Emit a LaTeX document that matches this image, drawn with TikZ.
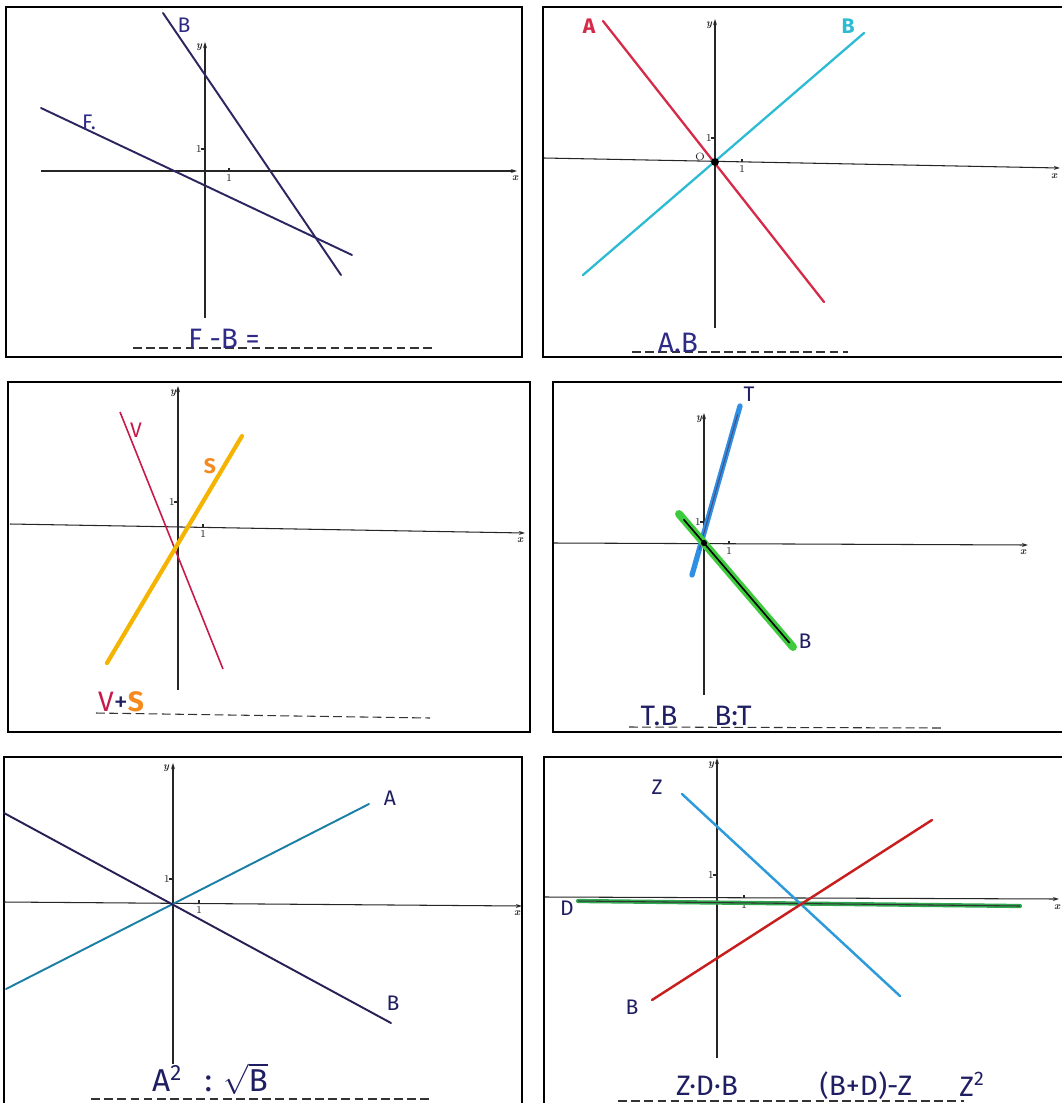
\documentclass[tikz,border=0pt]{standalone}
\usepackage{fontspec}
\usepackage{xcolor}
\usepackage{tikz}
\usetikzlibrary{arrows.meta,positioning,calc}
\newfontfamily\handfont{Fira Sans}

\definecolor{inkblue}{HTML}{2E2A86}
\definecolor{inknavy}{HTML}{1F1E62}
\definecolor{indigo}{HTML}{2B2660}
\definecolor{ared}{HTML}{D62B48}
\definecolor{bcyan}{HTML}{2BBBD3}
\definecolor{vred}{HTML}{C8194B}
\definecolor{samber}{HTML}{F4B400}
\definecolor{sorange}{HTML}{F58A1F}
\definecolor{tblue}{HTML}{2F8FE3}
\definecolor{bgreen}{HTML}{3DCB3D}
\definecolor{ateal}{HTML}{1B7FA5}
\definecolor{bpurple}{HTML}{2A1F55}
\definecolor{zcyan}{HTML}{2D9BDB}
\definecolor{bred}{HTML}{C81E1E}
\definecolor{dgreen}{HTML}{2FA84F}

\begin{document}
\begin{tikzpicture}[x=0.02cm, y=-0.02cm,
    every node/.style={inner sep=0pt},
    frame/.style={draw=black, line width=1.2pt},
    axis/.style={draw=black!85, line width=0.6pt, -{Stealth[length=3.5pt, width=2.2pt]}},
    tck/.style={draw=black!85, line width=0.6pt},
    axlab/.style={font=\fontsize{6}{6}\selectfont\bfseries\itshape, text=black!85},
    onelab/.style={font=\fontsize{6}{6}\selectfont, text=black!85},
    hand/.style={font=\handfont\fontsize{12}{12}\selectfont},
    answer/.style={font=\handfont\fontsize{16}{16}\selectfont, text=inkblue},
    blank/.style={draw=black!80, line width=0.6pt, dash pattern=on 5pt off 2.5pt},
    dotmark/.style={circle, fill=black, minimum size=4.5pt, inner sep=0pt},
    thin line/.style={line width=1.1pt, line cap=round},
    fat line/.style={line width=2.4pt, line cap=round},
    marker/.style={line width=4.5pt, line cap=round},
  ]
  \fill[white] (0,0) rectangle (1062,1103);
  \useasboundingbox (0,0) rectangle (1062,1103);
  \clip (0,0) rectangle (1062,1103);

  % panel 1: F - B
  \draw[frame] (6,7) rectangle (522,357);
  \coordinate (o1w) at (41,171);  \coordinate (o1e) at (517,171);
  \coordinate (o1s) at (205,318); \coordinate (o1n) at (205,42);
  \draw[axis] (o1w) -- (o1e);
  \draw[axis] (o1s) -- (o1n);
  \node[axlab] (x1) at (515,178) {x};
  \node[axlab] (y1) at (199,47) {y};
  \coordinate (tx1) at (229,171); \coordinate (ty1) at (205,149);
  \draw[tck] (tx1) -- ++(0,-3);
  \draw[tck] (ty1) -- ++(-4,0);
  \node[onelab, below=1.5pt of tx1] (nx1) {1};
  \node[onelab, left=1.5pt of ty1] (ny1) {1};
  \coordinate (b1a) at (163,13); \coordinate (b1b) at (341,275);
  \coordinate (f1a) at (41,108); \coordinate (f1b) at (352,255);
  \draw[thin line, indigo] (b1a) -- (b1b);
  \draw[thin line, indigo] (f1a) -- (f1b);
  \node[hand, text=inkblue] (lb1) at (184,25) {B};
  \node[hand, text=inkblue] (lf1) at (89,122) {F.};
  \coordinate (d1a) at (133,348); \coordinate (d1b) at (433,348);
  \draw[blank] (d1a) -- (d1b);
  \node[answer] (ans1) at (224,339) {F -B =};

  % panel 2: A . B
  \draw[frame] (543,7) rectangle (1070,357);
  \coordinate (o2w) at (544,158);  \coordinate (o2e) at (1060,168);
  \coordinate (o2s) at (715,328);  \coordinate (o2n) at (715,19);
  \draw[axis] (o2w) -- (o2e);
  \draw[axis] (o2s) -- (o2n);
  \node[axlab] (x2) at (1054,176) {x};
  \node[axlab] (y2) at (709,25) {y};
  \coordinate (tx2) at (742,162); \coordinate (ty2) at (715,138);
  \draw[tck] (tx2) -- ++(0,-3);
  \draw[tck] (ty2) -- ++(-4,0);
  \node[onelab, below=1.5pt of tx2] (nx2) {1};
  \node[onelab, left=1.5pt of ty2] (ny2) {1};
  \node[onelab] (o2) at (700,157) {O};
  \coordinate (a2a) at (603,21);  \coordinate (a2b) at (824,302);
  \coordinate (b2a) at (864,33);  \coordinate (b2b) at (583,275);
  \draw[thin line, line width=1.3pt, ared] (a2a) -- (a2b);
  \draw[thin line, line width=1.3pt, bcyan] (b2a) -- (b2b);
  \node[dotmark] (c2) at (715,162) {};
  \node[hand, text=ared, font=\handfont\bfseries\fontsize{12}{12}\selectfont] (la2) at (589,26) {A};
  \node[hand, text=bcyan, font=\handfont\bfseries\fontsize{12}{12}\selectfont] (lb2) at (848,26) {B};
  \coordinate (d2a) at (632,352); \coordinate (d2b) at (848,352);
  \draw[blank] (d2a) -- (d2b);
  \node[answer] (ans2) at (678,343) {A.B};

  % panel 3: V + S
  \draw[frame] (8,382) rectangle (530,732);
  \coordinate (o3w) at (10,524);  \coordinate (o3e) at (525,533);
  \coordinate (o3s) at (178,690); \coordinate (o3n) at (178,386);
  \draw[axis] (o3w) -- (o3e);
  \draw[axis] (o3s) -- (o3n);
  \node[axlab] (x3) at (520,540) {x};
  \node[axlab] (y3) at (173,393) {y};
  \coordinate (tx3) at (203,527.4); \coordinate (ty3) at (178,502);
  \draw[tck] (tx3) -- ++(0,-3);
  \draw[tck] (ty3) -- ++(-4,0);
  \node[onelab, below=1.5pt of tx3] (nx3) {1};
  \node[onelab, left=1.5pt of ty3] (ny3) {1};
  \coordinate (v3a) at (120,412); \coordinate (v3b) at (223,669);
  \coordinate (s3a) at (242,436); \coordinate (s3b) at (107,663);
  \draw[line width=0.9pt, vred] (v3a) -- (v3b);
  \draw[fat line, samber] (s3a) -- (s3b);
  \node[hand, text=vred] (lv3) at (136,430) {V};
  \node[hand, text=sorange, font=\handfont\bfseries\fontsize{12}{12}\selectfont] (ls3) at (210,466) {S};
  \coordinate (d3a) at (96,713); \coordinate (d3b) at (430,718);
  \draw[blank] (d3a) -- (d3b);
  \node[answer] (ans3) at (121,702) {\color{vred}V\color{inknavy}+\color{sorange}\bfseries S};

  % panel 4: T . B  and  B : T
  \draw[frame] (553,382) rectangle (1070,732);
  \coordinate (o4w) at (554,543);  \coordinate (o4e) at (1028,545);
  \coordinate (o4s) at (704,695);  \coordinate (o4n) at (704,413);
  \draw[axis] (o4w) -- (o4e);
  \draw[axis] (o4s) -- (o4n);
  \node[axlab] (x4) at (1023,552) {x};
  \node[axlab] (y4) at (699,419) {y};
  \coordinate (tx4) at (729,544); \coordinate (ty4) at (704,522);
  \draw[tck] (tx4) -- ++(0,-3);
  \draw[tck] (ty4) -- ++(-4,0);
  \node[onelab, below=1.5pt of tx4] (nx4) {1};
  \node[onelab, left=1.5pt of ty4] (ny4) {1};
  \coordinate (t4a) at (740,406);   \coordinate (t4b) at (692,575);
  \coordinate (b4a) at (679,514);   \coordinate (b4b) at (793,647);
  \draw[line width=3pt, line cap=round, tblue] (t4a) -- (t4b);
  \draw[line width=0.6pt, inknavy!80] ($(t4a)!0.05!(t4b)$) -- ($(t4a)!0.85!(t4b)$);
  \draw[marker, bgreen] (b4a) -- (b4b);
  \draw[line width=0.9pt, black] ($(b4a)!0.04!(b4b)$) -- ($(b4a)!0.97!(b4b)$);
  \node[dotmark, minimum size=3.5pt] (c4) at (704,543) {};
  \node[hand, text=inknavy] (lt4) at (749,394) {T};
  \node[hand, text=inknavy] (lb4) at (805,641) {B};
  \coordinate (d4a) at (629,727); \coordinate (d4b) at (943,728);
  \draw[blank] (d4a) -- (d4b);
  \node[answer, text=inknavy] (ans4a) at (659,716) {T.B};
  \node[answer, text=inknavy] (ans4b) at (733,716) {B:T};

  % panel 5: A^2 : sqrt B
  \draw[frame] (4,757) rectangle (522,1110);
  \coordinate (o5w) at (4,902);    \coordinate (o5e) at (522,906);
  \coordinate (o5s) at (173,1064); \coordinate (o5n) at (173,763);
  \draw[axis] (o5w) -- (o5e);
  \draw[axis] (o5s) -- (o5n);
  \node[axlab] (x5) at (517,913) {x};
  \node[axlab] (y5) at (166,768) {y};
  \coordinate (tx5) at (199,903); \coordinate (ty5) at (173,879);
  \draw[tck] (tx5) -- ++(0,-3);
  \draw[tck] (ty5) -- ++(-4,0);
  \node[onelab, below=1.5pt of tx5] (nx5) {1};
  \node[onelab, left=1.5pt of ty5] (ny5) {1};
  \coordinate (a5a) at (369,804); \coordinate (a5b) at (6,989);
  \coordinate (b5a) at (4,813);   \coordinate (b5b) at (391,1023);
  \draw[thin line, ateal] (a5a) -- (a5b);
  \draw[thin line, bpurple] (b5a) -- (b5b);
  \node[hand, text=inknavy] (la5) at (390,798) {A};
  \node[hand, text=inknavy] (lb5) at (393,1003) {B};
  \coordinate (d5a) at (91,1099); \coordinate (d5b) at (429,1099);
  \draw[blank] (d5a) -- (d5b);
  \node[answer, text=inknavy, font=\handfont\fontsize{18}{18}\selectfont] (ans5) at (210,1079) {A\textsuperscript{2}\;\, : $\sqrt{\mbox{B}}$};

  % panel 6: Z.D.B   (B+D)-Z   Z^2
  \draw[frame] (544,757) rectangle (1070,1110);
  \coordinate (o6w) at (545,897);  \coordinate (o6e) at (1059,899);
  \coordinate (o6s) at (717,1058); \coordinate (o6n) at (717,758);
  \draw[axis] (o6w) -- (o6e);
  \draw[axis] (o6s) -- (o6n);
  \node[axlab] (x6) at (1057,907) {x};
  \node[axlab] (y6) at (711,765) {y};
  \coordinate (tx6) at (744,898); \coordinate (ty6) at (717,875);
  \draw[tck] (tx6) -- ++(0,-3);
  \draw[tck] (ty6) -- ++(-4,0);
  \node[onelab, below=1.5pt of tx6] (nx6) {1};
  \node[onelab, left=1.5pt of ty6] (ny6) {1};
  \coordinate (z6a) at (682,794);  \coordinate (z6b) at (900,996);
  \coordinate (b6a) at (652,1000); \coordinate (b6b) at (932,820);
  \coordinate (d6a) at (578,901);  \coordinate (d6b) at (1020,906);
  \draw[line width=2.4pt, line cap=round, dgreen] (d6a) -- (d6b);
  \draw[line width=0.6pt, black!80] (d6a) -- (d6b);
  \draw[thin line, line width=1.4pt, zcyan] (z6a) -- (z6b);
  \draw[thin line, line width=1.4pt, bred] (b6a) -- (b6b);
  \node[hand, text=inknavy] (lz6) at (657,787) {Z};
  \node[hand, text=inknavy] (lb6) at (632,1007) {B};
  \node[hand, text=inknavy] (ld6) at (567,908) {D};
  \coordinate (d6l) at (618,1101); \coordinate (d6r) at (964,1101);
  \draw[blank] (d6l) -- (d6r);
  \node[answer, text=inknavy] (ans6a) at (707,1086) {Z·D·B};
  \node[answer, text=inknavy] (ans6b) at (866,1086) {(B+D)-Z};
  \node[answer, text=inknavy] (ans6c) at (972,1084) {Z\textsuperscript{2}};
\end{tikzpicture}
\end{document}
